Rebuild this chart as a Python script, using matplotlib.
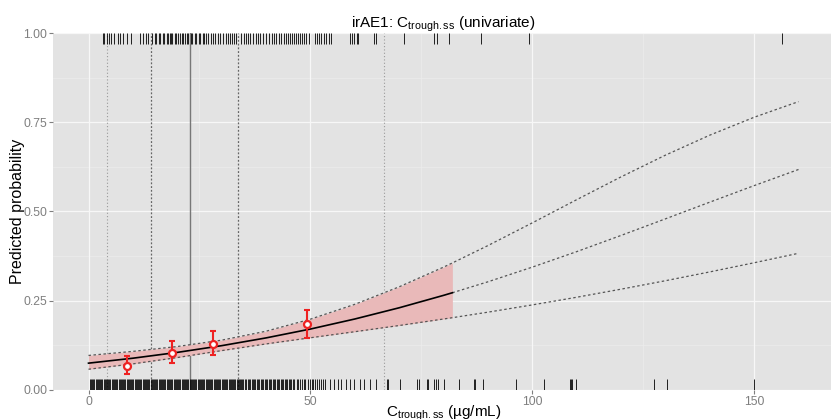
import matplotlib
matplotlib.use("Agg")
import matplotlib.pyplot as plt
import matplotlib.transforms as mtransforms

plt.rcParams['font.family'] = ['Liberation Sans', 'DejaVu Sans']
plt.rcParams['mathtext.fontset'] = 'custom'
plt.rcParams['mathtext.rm'] = 'Liberation Sans'
plt.rcParams['mathtext.it'] = 'Liberation Sans:italic'
plt.rcParams['mathtext.bf'] = 'Liberation Sans:bold'

# ---------------- data ----------------
curve_x = [0, 10, 20, 30, 40, 50, 60, 70, 80, 82, 90, 100, 110, 120, 130, 140, 150, 160]
curve_mid = [0.0740, 0.0879, 0.1042, 0.1231, 0.1449, 0.1698, 0.1980, 0.2295, 0.2644, 0.2718,
             0.3025, 0.3437, 0.3872, 0.4327, 0.4793, 0.5262, 0.5727, 0.6180]
curve_hi = [0.0957, 0.1071, 0.1207, 0.1386, 0.1637, 0.1975, 0.2392, 0.2884, 0.3437, 0.3555,
            0.4042, 0.4680, 0.5331, 0.5972, 0.6582, 0.7144, 0.7647, 0.8086]
curve_lo = [0.0569, 0.0720, 0.0897, 0.1092, 0.1280, 0.1453, 0.1623, 0.1797, 0.1980, 0.2017,
            0.2172, 0.2376, 0.2591, 0.2818, 0.3055, 0.3303, 0.3560, 0.3826]
observed_max = 82  # band / solid line drawn up to here

bin_x = [8.6, 18.8, 28.0, 49.3]
bin_p = [0.065, 0.102, 0.127, 0.183]
bin_lo = [0.044, 0.074, 0.096, 0.146]
bin_hi = [0.094, 0.136, 0.163, 0.224]

quantiles = [4.1, 14.0, 22.9, 33.8, 66.7]   # 5%, 25%, 50%, 75%, 95%

events = [3.3, 3.6, 4.1, 4.7, 5.1, 5.7, 6.6, 7.0, 7.8, 8.7, 9.6, 11.7, 12.2, 12.9, 13.5, 14.4, 14.9,
          15.3, 15.8, 16.2, 16.7, 17.1, 17.6, 17.9, 18.3, 18.6, 18.9, 19.4, 19.8, 20.1, 20.6, 21.0,
          21.3, 21.8, 22.2, 22.5, 23.0, 23.4, 23.9, 24.3, 24.8, 25.2, 25.7, 26.0, 26.4, 27.0, 27.6,
          28.1, 28.5, 29.1, 29.7, 30.3, 30.9, 31.4, 31.8, 32.4, 32.9, 33.3, 34.4, 35.0, 35.6, 36.0,
          36.5, 37.1, 37.7, 38.3, 38.7, 39.3, 40.1, 40.6, 41.4, 41.8, 42.3, 43.0, 43.4, 44.0, 44.6,
          44.9, 45.3, 45.8, 46.4, 46.8, 47.3, 47.7, 48.2, 48.6, 49.1, 49.6, 51.1, 51.5, 51.9, 52.5,
          53.0, 53.6, 54.2, 54.7, 59.0, 59.4, 59.9, 60.4, 60.7, 64.3, 64.7, 71.2, 77.9, 78.6, 81.3,
          88.5, 99.3, 156.3]

non_events = [0.3, 0.6, 0.8, 1.1, 1.3, 1.6, 1.9, 2.1, 2.4, 2.6, 2.9, 3.1, 3.4, 3.7, 3.9, 4.2, 4.4,
              4.7, 4.9, 5.2, 5.5, 5.7, 6.0, 6.2, 6.5, 6.8, 7.0, 7.3, 7.5, 7.8, 8.0, 8.3, 8.6, 8.8,
              9.1, 9.3, 9.6, 9.9, 10.1, 10.4, 10.6, 10.9, 11.1, 11.4, 11.7, 11.9, 12.2, 12.4, 12.7,
              13.0, 13.2, 13.5, 13.7, 14.0, 14.2, 14.5, 14.8, 15.0, 15.3, 15.5, 15.8, 16.1, 16.3,
              16.6, 16.8, 17.1, 17.3, 17.6, 17.9, 18.1, 18.4, 18.6, 18.9, 19.2, 19.4, 19.7, 19.9,
              20.2, 20.4, 20.7, 21.0, 21.2, 21.5, 21.7, 22.0, 22.3, 22.5, 22.8, 23.0, 23.3, 23.5,
              23.8, 24.1, 24.3, 24.6, 24.8, 25.1, 25.4, 25.6, 25.9, 26.1, 26.4, 26.6, 26.9, 27.2,
              27.4, 27.7, 27.9, 28.2, 28.5, 28.7, 29.0, 29.2, 29.5, 29.7, 30.0, 30.3, 30.5, 30.8,
              31.0, 31.3, 31.6, 31.8, 32.1, 32.3, 32.6, 32.8, 33.1, 33.4, 33.6, 33.9, 34.1, 34.4,
              34.7, 34.9, 35.3, 35.6, 35.9, 36.2, 36.5, 36.8, 37.0, 37.3, 37.6, 37.9, 38.2, 38.5,
              38.8, 39.1, 39.4, 39.7, 40.0, 40.3, 40.6, 40.9, 41.2, 41.5, 41.8, 42.1, 42.4, 42.7,
              43.0, 43.3, 43.6, 43.9, 44.2, 44.5, 44.8, 45.1, 45.4, 45.7, 46.0, 46.4, 46.9, 47.3,
              47.6, 48.2, 48.6, 48.9, 49.4, 49.9, 50.3, 50.6, 51.1, 51.5, 52.0, 52.4, 52.8, 53.3,
              54.5, 55.3, 56.2, 57.0, 58.1, 59.0, 59.8, 61.2, 62.0, 63.4,
              64.9, 67.3, 67.6, 70.3, 74.0, 74.4, 76.3, 76.6, 77.8, 78.4, 78.7, 80.0, 83.6, 86.8,
              87.2, 89.0, 96.4, 102.7, 108.4, 108.7, 108.9, 109.9, 127.5, 130.3, 150.0]

x_ticks = [0, 50, 100, 150]
y_ticks = [0.0, 0.25, 0.5, 0.75, 1.0]
y_ticklabels = ["0.00", "0.25", "0.50", "0.75", "1.00"]

subtitle = r"irAE1: C$_{\mathrm{trough.ss}}$ (univariate)"
xlabel = r"C$_{\mathrm{trough.ss}}$ (µg/mL)"
ylabel = "Predicted probability"

# ---------------- figure ----------------
fig = plt.figure(figsize=(8.31, 4.19), dpi=100)
ax = fig.add_axes([53 / 831, (419 - 389.5) / 419, 781 / 831, 356 / 419])
ax.set_facecolor("#E3E3E3")
ax.set_xlim(-8, 168)
ax.set_ylim(0, 1)

# grid
for v in [25, 75, 125]:
    ax.axvline(v, color="#EDEDED", lw=0.5, zorder=0.5)
for v in [0.125, 0.375, 0.625, 0.875]:
    ax.axhline(v, color="#EDEDED", lw=0.5, zorder=0.5)
for v in x_ticks:
    ax.axvline(v, color="#F7F7F7", lw=0.9, zorder=0.6)
for v in y_ticks:
    ax.axhline(v, color="#F7F7F7", lw=0.9, zorder=0.6)

# quantile lines
q_styles = [("#9A9A9A", (0, (1, 2)), 0.8), ("#666666", (0, (1.5, 1.5)), 0.9),
            ("#777777", "-", 1.0), ("#666666", (0, (1.5, 1.5)), 0.9),
            ("#9A9A9A", (0, (1, 2)), 0.8)]
for q, (c, ls, lw) in zip(quantiles, q_styles):
    ax.axvline(q, color=c, ls=ls, lw=lw, zorder=1)

# band within observed range
bx = [x for x in curve_x if x <= observed_max]
n = len(bx)
ax.fill_between(bx, curve_lo[:n], curve_hi[:n], color="#E9B9B9", lw=0, zorder=2)

dot = (0, (2, 2))
ax.plot(curve_x, curve_hi, color="#555555", ls=dot, lw=0.9, zorder=3)
ax.plot(curve_x, curve_lo, color="#555555", ls=dot, lw=0.9, zorder=3)
ax.plot(curve_x[n - 1:], curve_mid[n - 1:], color="#555555", ls=dot, lw=0.9, zorder=3)
ax.plot(bx, curve_mid[:n], color="black", lw=1.2, zorder=4)

# binned observed proportions
yerr = [[p - l for p, l in zip(bin_p, bin_lo)], [h - p for p, h in zip(bin_p, bin_hi)]]
ax.errorbar(bin_x, bin_p, yerr=yerr, fmt="none", ecolor="#EE2222", elinewidth=1.5,
            capsize=2.2, capthick=1.5, zorder=5)
ax.plot(bin_x, bin_p, "o", ms=5, mfc="white", mec="#EE2222", mew=1.6, zorder=6)

# rugs
trans = mtransforms.blended_transform_factory(ax.transData, ax.transAxes)
ax.vlines(non_events, 0, 0.03, transform=trans, color="black", lw=0.6, zorder=3)
ax.vlines(events, 0.97, 1.0, transform=trans, color="black", lw=0.6, zorder=3)

# axes styling
for s in ax.spines.values():
    s.set_visible(False)
ax.set_xticks(x_ticks)
ax.set_xticklabels([str(t) for t in x_ticks])
ax.set_yticks(y_ticks)
ax.set_yticklabels(y_ticklabels)
ax.tick_params(axis="both", colors="#7F7F7F", labelsize=8.8, length=3, width=0.8,
               labelcolor="#7F7F7F")
ax.tick_params(axis="x", pad=2)
ax.tick_params(axis="y", pad=1)

ax.set_xlabel(xlabel, fontsize=11, va="top")
ax.xaxis.set_label_coords(0.5, -0.04)
ax.set_ylabel(ylabel, fontsize=11.5, va="bottom")
ax.yaxis.set_label_coords(-(53 - 25) / 781, 0.5)
ax.set_title(subtitle, fontsize=11, pad=3)

fig.savefig("out.png", dpi=100)
